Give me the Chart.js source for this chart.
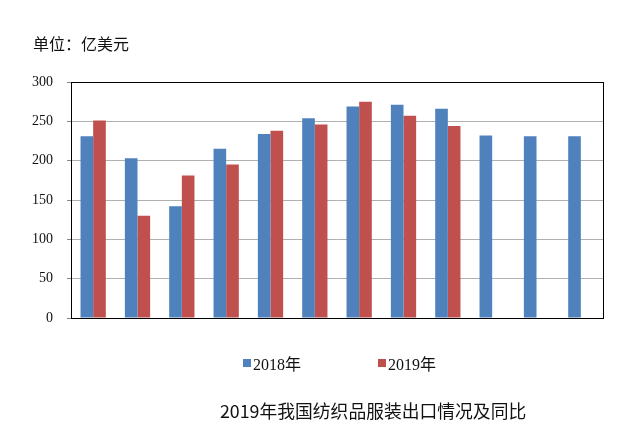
<!DOCTYPE html>
<html><head><meta charset="utf-8">
<script src="https://cdn.jsdelivr.net/npm/chart.js@4"></script>
<style>
html,body{margin:0;padding:0;background:#fff;}
#wrap{position:relative;width:640px;height:437px;}
canvas{position:absolute;left:0;top:0;}
.txt{position:absolute;font-family:"Noto Sans CJK SC","Noto Sans",sans-serif;color:#111;white-space:nowrap;}
#unit{left:33px;top:31px;font-size:16px;}
#title{left:220px;top:397px;font-size:17.8px;}
.leg{position:absolute;top:351px;font-family:"Liberation Serif","Noto Sans CJK SC",serif;font-size:16px;color:#111;display:flex;align-items:center;}
.leg i{display:inline-block;width:8px;height:8px;margin-right:2px;}
</style></head>
<body><div id="wrap"><canvas id="c" width="640" height="437"></canvas>
<div id="unit" class="txt">单位：亿美元</div>
<div id="leg"></div>
<div id="title" class="txt">2019年我国纺织品服装出口情况及同比</div>
</div>
<script>
const categories = ["1月","2月","3月","4月","5月","6月","7月","8月","9月","10月","11月","12月"];
const series2018 = [231, 203, 142, 215, 234, 254, 269, 271, 266, 232, 231, 231];
const series2019 = [251, 130, 181, 195, 238, 246, 275, 257, 244, null, null, null];
const seriesNames = ["2018年", "2019年"];
const seriesColors = ["#4f81bd", "#c0504d"];
const yTicks = [0, 50, 100, 150, 200, 250, 300];

const legPos = [243, 378];
const legEl = document.getElementById('leg');
seriesNames.forEach((n, i) => {
  const d = document.createElement('div');
  d.className = 'leg';
  d.style.left = legPos[i] + 'px';
  d.innerHTML = '<i style="background:' + seriesColors[i] + '"></i>' + n;
  legEl.appendChild(d);
});

const frame = {
  id: 'frame',
  afterDraw(chart) {
    const a = chart.chartArea, ctx = chart.ctx;
    ctx.save();
    ctx.strokeStyle = '#000';
    ctx.lineWidth = 1;
    ctx.strokeRect(Math.round(a.left) + 0.5, Math.round(a.top) + 0.5, Math.round(a.right - a.left), Math.round(a.bottom - a.top));
    ctx.restore();
  }
};

new Chart(document.getElementById('c'), {
  type: 'bar',
  data: {
    labels: categories,
    datasets: [
      { label: seriesNames[0], data: series2018, backgroundColor: seriesColors[0] },
      { label: seriesNames[1], data: series2019, backgroundColor: seriesColors[1] }
    ]
  },
  options: {
    responsive: false,
    animation: false,
    layout: { padding: { left: 0, top: 82, right: 37, bottom: 118 } },
    plugins: { legend: { display: false }, tooltip: { enabled: false } },
    datasets: { bar: { categoryPercentage: 0.57, barPercentage: 1 } },
    scales: {
      x: {
        ticks: { display: false },
        grid: { display: false },
        border: { display: true, color: '#000' },
        afterFit(s) { s.height = 1; }
      },
      y: {
        min: 0, max: 300,
        afterBuildTicks(s) { s.ticks = yTicks.map(v => ({ value: v })); },
        ticks: { font: { family: 'Liberation Serif', size: 14 }, color: '#111', padding: 14 },
        grid: { color: '#b0b0b0', lineWidth: 1, drawTicks: true, tickLength: 4, tickColor: '#888' },
        border: { display: true, color: '#000' },
        afterFit(s) { s.width = 71; }
      }
    }
  },
  plugins: [frame]
});
</script>
</body></html>
